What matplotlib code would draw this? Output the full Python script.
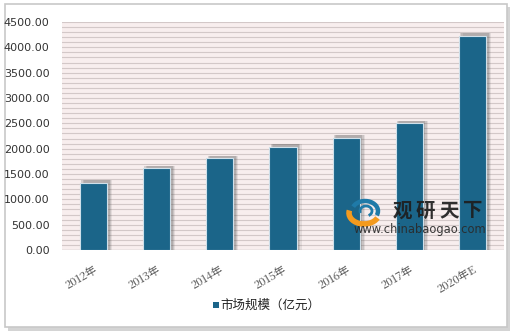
import matplotlib
matplotlib.use("Agg")
import matplotlib.pyplot as plt
from matplotlib.patches import Rectangle, Arc
import numpy as np

plt.rcParams['font.family'] = ['Noto Sans CJK SC', 'DejaVu Sans']

categories = ["2012年", "2013年", "2014年", "2015年", "2016年", "2017年", "2020年E"]
values = [1330, 1610, 1810, 2040, 2215, 2500, 4230]
series_name = "市场规模（亿元）"
yticks = [0, 500, 1000, 1500, 2000, 2500, 3000, 3500, 4000, 4500]

W, H = 520, 333
fig = plt.figure(figsize=(W / 100, H / 100), dpi=100)
fig.patch.set_facecolor("white")

# outer frame with shadow
fig.patches.append(Rectangle((8 / W, 1 - 331 / H), 502 / W, 324 / H, transform=fig.transFigure,
                             facecolor="#d4d4d4", edgecolor="none", zorder=-10))
fig.patches.append(Rectangle((5 / W, 1 - 327 / H), 502 / W, 323 / H, transform=fig.transFigure,
                             facecolor="white", edgecolor="#c8c8c8", linewidth=1.2, zorder=-9))

ax = fig.add_axes([62 / W, 1 - 250 / H, 442 / W, 228 / H])
ax.set_zorder(1)
ax.set_facecolor("#f8eeee")
ax.set_xlim(-0.5, len(categories) - 0.5)
ax.set_ylim(0, 4500)

# dense horizontal grid
for yv in np.arange(100, 4501, 100):
    ax.axhline(yv, color="#d3c8c8", linewidth=0.8, zorder=1)
ax.axhline(0, color="#bdbdbd", linewidth=1.0, zorder=1)

x = np.arange(len(categories))
bw = 0.43
# soft shadows
for off, a in [(0.07, 0.12), (0.05, 0.18), (0.03, 0.22)]:
    ax.bar(x + off, np.array(values) + 50, width=bw + 0.02, color="#5a5a5a", alpha=a, zorder=2, linewidth=0)
ax.bar(x, values, width=bw, color="#1b6589", edgecolor="#cfe0ea", linewidth=0.8, zorder=3)

for s in ax.spines.values():
    s.set_visible(False)
ax.set_yticks(yticks)
ax.set_yticklabels([f"{v:.2f}" for v in yticks], fontsize=8, color="#333333", family="DejaVu Sans")
ax.set_xticks(x)
ax.set_xticklabels(categories, rotation=30, fontsize=8, color="#4a4a4a", ha="right",
                   rotation_mode="anchor", family=["Noto Serif CJK SC", "Noto Sans CJK SC", "DejaVu Serif"])
ax.tick_params(axis="y", length=0, pad=9)
ax.tick_params(axis="x", length=0, pad=10)

# overlay in pixel coordinates for watermark / legend
ov = fig.add_axes([0, 0, 1, 1])
ov.set_zorder(5)
ov.set_xlim(0, W)
ov.set_ylim(H, 0)
ov.axis("off")
ov.patch.set_alpha(0)

# watermark logo
ov.add_patch(Arc((365, 211), 26, 20, theta1=200, theta2=20, color="#1f7aa8", lw=3.2))
ov.add_patch(Arc((364, 213), 30, 22, theta1=20, theta2=190, color="#f39a1e", lw=4))
ov.add_patch(Arc((366, 211), 12, 10, theta1=160, theta2=60, color="#1f7aa8", lw=2))
for i, ch in enumerate("观研天下"):
    ov.text(402 + i * 23.5, 211, ch, fontsize=14, fontweight="bold", color="#1e1e1e",
            ha="center", va="center", alpha=0.92)
ov.text(420, 230, "www.chinabaogao.com", fontsize=8.3, color="#2a2a2a",
        ha="center", va="center", family="DejaVu Sans", alpha=0.92)

# legend
ov.add_patch(Rectangle((213, 302), 5.5, 5.5, facecolor="#1b6589", edgecolor="none"))
ov.text(220, 305, series_name, fontsize=9, color="#222222", ha="left", va="center")

fig.savefig("out.png", dpi=100, facecolor=fig.get_facecolor())
